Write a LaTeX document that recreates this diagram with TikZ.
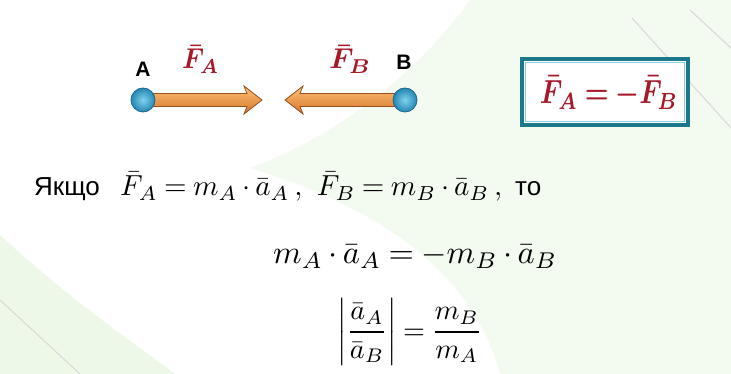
\documentclass[tikz,border=0pt]{standalone}
\usepackage{fontspec}
\setsansfont{Liberation Sans}
\usepackage{amsmath,graphicx}
\usetikzlibrary{shadows,calc}
\pgfdeclarelayer{bg}\pgfdeclarelayer{arr}\pgfsetlayers{bg,arr,main}
\definecolor{fred}{RGB}{165,25,40}
\definecolor{ballin}{RGB}{130,210,238}
\definecolor{ballout}{RGB}{35,135,180}
\definecolor{ballo}{RGB}{30,105,140}
\definecolor{orl}{RGB}{252,195,120}
\definecolor{ord}{RGB}{215,115,40}
\definecolor{oro}{RGB}{150,80,30}
\definecolor{tealb}{RGB}{30,120,140}
\definecolor{tealin}{RGB}{130,205,225}
\definecolor{bgg}{RGB}{225,244,218}
\thickmuskip=4mu plus 1mu
\medmuskip=3mu plus 1mu
\begin{document}
\begin{tikzpicture}[x=1pt,y=-1pt,
  ball/.style={circle,draw=ballo,line width=0.8pt,inner color=ballin,outer color=ballout,minimum size=24pt,inner sep=0pt},
  lbl/.style={font=\sffamily\bfseries\fontsize{21}{24}\selectfont,inner sep=0pt,anchor=base},
  txt/.style={font=\sffamily\fontsize{26}{30}\selectfont,inner sep=0pt,anchor=base west},
  eq/.style={inner sep=0pt,anchor=base west},
  force/.style={draw=oro,line width=0.8pt,top color=orl,bottom color=ord,line join=miter},
  bgline/.style={draw=gray!30,line width=1pt},
]
\useasboundingbox (0,0) rectangle (731,374);
\begin{pgfonlayer}{bg}
\fill[white] (0,0) rectangle (731,374);
\fill[bgg,opacity=0.6] (0,235) .. controls (70,300) and (130,340) .. (175,374) -- (0,374) -- cycle;
\fill[bgg,opacity=0.4] (250,168) .. controls (340,135) and (420,70) .. (470,0) -- (731,0) -- (731,374) -- (500,374) .. controls (480,300) and (420,220) .. (250,168) -- cycle;
\draw[bgline] (632,18) -- (731,128);
\draw[bgline] (690,10) -- (731,48);
\draw[bgline] (0,300) -- (80,374);
\end{pgfonlayer}

% balls
\node[ball] (A) at (143,100) {};
\node[ball] (B) at (405,100) {};
\coordinate (tA) at (262,100);
\coordinate (tB) at (285,100);

\begin{pgfonlayer}{arr}
\draw[force] ($(A.center)+(0,-6.5)$) -- ($(tA)+(-15,-6.5)$) -- ($(tA)+(-18,-14)$) -- (tA) -- ($(tA)+(-18,14)$) -- ($(tA)+(-15,6.5)$) -- ($(A.center)+(0,6.5)$) -- cycle;
\draw[force] ($(B.center)+(0,-6.5)$) -- ($(tB)+(15,-6.5)$) -- ($(tB)+(18,-14)$) -- (tB) -- ($(tB)+(18,14)$) -- ($(tB)+(15,6.5)$) -- ($(B.center)+(0,6.5)$) -- cycle;
\end{pgfonlayer}

% labels
\node[lbl] (la) at (143,77) {A};
\node[lbl] (lb) at (404,70) {B};
\node[eq,text=fred] (fa) at (182,69) {\resizebox{37pt}{24pt}{\boldmath$\bar F_A$}};
\node[eq,text=fred] (fb) at (329,69) {\resizebox{42pt}{24pt}{\boldmath$\bar F_B$}};

% box
\node[draw=tealb,line width=4pt,fill=white,minimum width=166pt,minimum height=66pt,inner sep=0pt,
  drop shadow={shadow xshift=1.5pt,shadow yshift=-2pt,opacity=0.45}] (box) at (605,92) {};
\draw[tealin,line width=1.2pt] ($(box.north west)+(5.5,5.5)$) rectangle ($(box.south east)+(-5.5,-5.5)$);
\node[inner sep=0pt,anchor=base,text=fred] (eqbox) at (609,104) {\resizebox{138pt}{28pt}{\boldmath$\bar F_A=-\bar F_B$}};

% text lines
\node[txt] (yak) at (34,196) {Якщо};
\node[eq] (l1) at (120,196) {\resizebox{382pt}{!}{$\bar F_A = m_A\cdot\bar a_A\,,\ \bar F_B = m_B\cdot\bar a_B\,,$}};
\node[txt] (to) at (515,196) {то};
\node[eq] (l2) at (273,264) {\resizebox{284pt}{!}{$m_A\cdot\bar a_A=-m_B\cdot\bar a_B$}};
\node[inner sep=0pt,anchor=west] (l3) at (337,332) {\resizebox{145pt}{!}{$\displaystyle\left|\frac{\bar a_A}{\bar a_B}\right|=\frac{m_B}{m_A}$}};
\end{tikzpicture}
\end{document}
